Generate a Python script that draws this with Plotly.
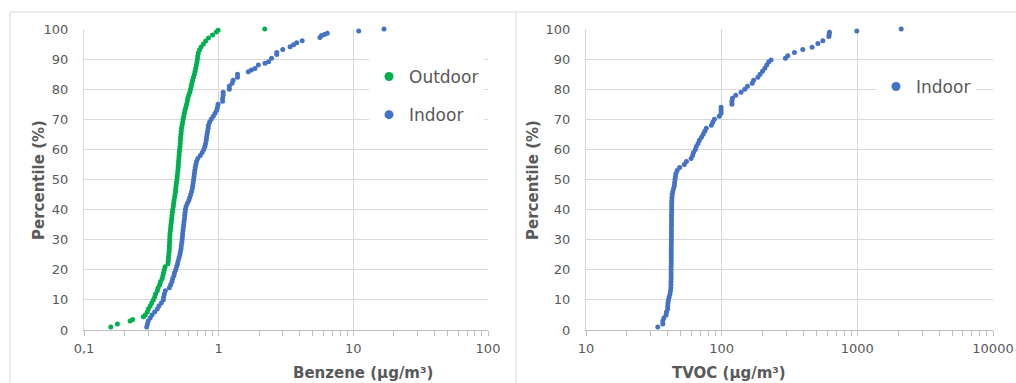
import plotly.graph_objects as go

# ---------------- data ----------------
# Benzene outdoor (µg/m3) and percentile
benz_out_x = [0.158, 0.177, 0.22, 0.23, 0.276, 0.285, 0.295, 0.30, 0.31, 0.318,
              0.327, 0.335, 0.34, 0.35, 0.355, 0.365, 0.37, 0.38, 0.385, 0.39,
              0.395, 0.40, 0.42, 0.422, 0.424, 0.426, 0.428, 0.43, 0.43, 0.432,
              0.433, 0.434, 0.435, 0.438, 0.44, 0.442, 0.445, 0.448, 0.45, 0.453,
              0.456, 0.46, 0.463, 0.466, 0.47, 0.474, 0.478, 0.48, 0.483, 0.486,
              0.49, 0.492, 0.495, 0.498, 0.50, 0.502, 0.504, 0.506, 0.508, 0.51,
              0.513, 0.516, 0.518, 0.52, 0.522, 0.525, 0.527, 0.53, 0.535, 0.54,
              0.545, 0.55, 0.556, 0.562, 0.57, 0.578, 0.585, 0.59, 0.60, 0.61,
              0.618, 0.625, 0.632, 0.64, 0.65, 0.66, 0.668, 0.675, 0.683, 0.69,
              0.695, 0.70, 0.706, 0.72, 0.74, 0.77, 0.80, 0.84, 0.90, 0.96,
              0.99, 2.2]
benz_out_p = [1, 2, 3, 3.5, 4.4, 5, 6, 7, 8, 9,
              10, 11, 12, 13, 14, 15, 16, 17, 18, 19,
              20, 21, 22, 23, 24, 25, 26, 27, 28, 29,
              30, 31, 32, 33, 34, 35, 36, 37, 38, 39,
              40, 41, 42, 43, 44, 45, 46, 47, 48, 49,
              50, 51, 52, 53, 54, 55, 56, 57, 58, 59,
              60, 61, 62, 63, 64, 65, 66, 67, 68, 69,
              70, 71, 72, 73, 74, 75, 76, 77, 78, 79,
              80, 81, 82, 83, 84, 85, 86, 87, 88, 89,
              90, 91, 92, 93, 94, 95, 96, 97, 98, 99,
              99.6, 100]

# Benzene indoor (µg/m3) and percentile
benz_in_x = [0.292, 0.296, 0.30, 0.31, 0.32, 0.335, 0.35, 0.36, 0.375, 0.388,
             0.39, 0.395, 0.402, 0.43, 0.44, 0.45, 0.455, 0.465, 0.47, 0.48,
             0.487, 0.495, 0.50, 0.508, 0.515, 0.52, 0.525, 0.528, 0.532, 0.535,
             0.538, 0.54, 0.543, 0.546, 0.55, 0.553, 0.557, 0.56, 0.563, 0.567,
             0.572, 0.585, 0.60, 0.61, 0.62, 0.63, 0.637, 0.642, 0.647, 0.652,
             0.656, 0.66, 0.665, 0.67, 0.677, 0.685, 0.70, 0.73, 0.755, 0.775,
             0.79, 0.80, 0.808, 0.814, 0.82, 0.828, 0.835, 0.84, 0.855, 0.88,
             0.912, 0.94, 0.967, 0.98, 0.99, 1.07, 1.07, 1.08, 1.08, 1.2,
             1.2, 1.26, 1.28, 1.38, 1.38, 1.66, 1.75, 1.86, 1.97, 2.21,
             2.35, 2.47, 2.7, 2.7, 2.99, 3.39, 3.6, 3.8, 4.17, 5.65,
             5.8, 6.1, 6.4, 10.96, 16.9]
benz_in_p = [1, 2, 3, 4, 5, 6, 7, 8, 9, 10,
             11, 12, 13, 14, 15, 16, 17, 18, 19, 20,
             21, 22, 23, 24, 25, 26, 27, 28, 29, 30,
             31, 32, 33, 34, 35, 36, 37, 38, 39, 40,
             41, 42, 43, 44, 45, 46, 47, 48, 49, 50,
             51, 52, 53, 54, 55, 56, 57, 58, 59, 60,
             61, 62, 63, 64, 65, 66, 67, 68, 69, 70,
             71, 72, 73, 74, 75, 76, 77, 78, 79, 80,
             81, 82, 83, 84, 85, 85.8, 86.4, 86.9, 88, 88.6,
             89.1, 90.3, 91.5, 92.2, 93.2, 94.1, 94.8, 95.4, 96.1, 97.2,
             97.8, 98.2, 98.6, 99.3, 100]

# TVOC indoor (µg/m3) and percentile
tvoc_x = [33.8, 36.8, 36.8, 37.5, 38.9, 39.2, 40, 40, 40.2, 40.5,
          41, 41.6, 42, 42.2, 42.3, 42.3, 42.4, 42.4, 42.4, 42.4,
          42.4, 42.5, 42.5, 42.5, 42.5, 42.5, 42.5, 42.5, 42.6, 42.6,
          42.6, 42.6, 42.6, 42.6, 42.7, 42.7, 42.7, 42.7, 42.8, 42.8,
          42.8, 42.8, 42.9, 43, 43.2, 43.6, 44.2, 44.8, 45, 45.3,
          45.6, 46, 47, 49, 53, 55, 59.5, 61, 62, 64,
          65, 67, 68.5, 71, 73, 75, 77, 84, 86, 88.4,
          96, 99, 99, 99, 119, 119, 120, 127, 139, 148,
          155, 168, 172, 185, 192, 200, 208, 215, 222, 231,
          295, 307, 344, 396, 464, 512, 557, 617, 620, 623,
          991, 2104]
tvoc_p = [1, 2, 3, 4, 5, 6, 7, 8, 9, 10,
          11, 12, 13, 14, 15, 16, 17, 18, 19, 20,
          21, 22, 23, 24, 25, 26, 27, 28, 29, 30,
          31, 32, 33, 34, 35, 36, 37, 38, 39, 40,
          41, 42, 43, 44, 45, 46, 47, 48, 49, 50,
          51, 52, 53, 54, 55, 56, 57, 58, 59, 60,
          61, 62, 63, 64, 65, 66, 67, 68, 69, 70,
          71, 72, 73, 74, 75, 76, 77, 78, 79, 80,
          81, 82, 83, 84, 85, 86, 87, 88, 89, 89.7,
          90.3, 91.1, 92.2, 93.2, 93.9, 95.2, 96.1, 97.5, 98.2, 98.9,
          99.3, 100]

y_ticks = [0, 10, 20, 30, 40, 50, 60, 70, 80, 90, 100]

# ---------------- style ----------------
GREEN = "#00B050"
BLUE = "#4472C4"
GRID = "#d9d9d9"
TXT = "#595959"
FONT = "DejaVu Sans"
W, H = 1016, 383

def px(xpix):
    return xpix / W

def py(ypix):
    return 1 - ypix / H

fig = go.Figure()

mk = dict(size=5)
fig.add_trace(go.Scatter(x=benz_out_x, y=benz_out_p, mode="markers",
                         marker=dict(color=GREEN, **mk), xaxis="x", yaxis="y",
                         showlegend=False, cliponaxis=False))
fig.add_trace(go.Scatter(x=benz_in_x, y=benz_in_p, mode="markers",
                         marker=dict(color=BLUE, **mk), xaxis="x", yaxis="y",
                         showlegend=False, cliponaxis=False))
fig.add_trace(go.Scatter(x=tvoc_x, y=tvoc_p, mode="markers",
                         marker=dict(color=BLUE, **mk), xaxis="x2", yaxis="y2",
                         showlegend=False, cliponaxis=False))

# legend entries
fig.add_trace(go.Scatter(x=[None], y=[None], mode="markers", name="Outdoor",
                         marker=dict(color=GREEN, size=9), legendgroup="a",
                         legend="legend", xaxis="x", yaxis="y"))
fig.add_trace(go.Scatter(x=[None], y=[None], mode="markers", name="Indoor",
                         marker=dict(color=BLUE, size=9), legendgroup="b",
                         legend="legend", xaxis="x", yaxis="y"))
fig.add_trace(go.Scatter(x=[None], y=[None], mode="markers", name="Indoor",
                         marker=dict(color=BLUE, size=9), legendgroup="c",
                         legend="legend2", xaxis="x2", yaxis="y2"))

xcommon = dict(type="log", showgrid=True, gridcolor=GRID, gridwidth=1,
               showline=True, linecolor="#bfbfbf", linewidth=1,
               ticks="outside", ticklen=5, tickcolor="#bfbfbf",
               tickfont=dict(family=FONT, size=13, color=TXT),
               ticklabelstandoff=1, zeroline=False, automargin=False,
               minor=dict(ticks="outside", ticklen=5, tickcolor="#bfbfbf",
                          dtick="D1", showgrid=False))
ycommon = dict(range=[0, 100], tickvals=y_ticks, showgrid=True, gridcolor=GRID,
               gridwidth=1, showline=True, linecolor=GRID, ticks="",
               tickfont=dict(family=FONT, size=13, color=TXT),
               ticklabelstandoff=12, zeroline=False, automargin=False,
               domain=[py(330), py(29)])

fig.update_layout(
    width=W, height=H,
    margin=dict(l=0, r=0, t=0, b=0),
    paper_bgcolor="white", plot_bgcolor="white",
    separators=",.",
    font=dict(family=FONT, color=TXT),
    xaxis=dict(range=[-1, 2], dtick=1, domain=[px(84), px(488)], anchor="y", **xcommon),
    yaxis=dict(anchor="x", **ycommon),
    xaxis2=dict(range=[1, 4], dtick=1, tickformat="d", domain=[px(586), px(993)],
                anchor="y2", **xcommon),
    yaxis2=dict(anchor="x2", **ycommon),
    legend=dict(x=px(369), y=py(59), xanchor="left", yanchor="top",
                bgcolor="white", borderwidth=0, tracegroupgap=13,
                font=dict(family=FONT, size=17, color=TXT)),
    legend2=dict(x=px(876), y=py(69), xanchor="left", yanchor="top",
                 bgcolor="white", borderwidth=0,
                 font=dict(family=FONT, size=17, color=TXT)),
)

# chart frames
fig.add_shape(type="line", xref="paper", yref="paper", x0=px(10), x1=1,
              y0=py(12), y1=py(12), line=dict(color=GRID, width=1))
fig.add_shape(type="line", xref="paper", yref="paper", x0=px(10), x1=px(10),
              y0=py(12), y1=0, line=dict(color=GRID, width=1))
fig.add_shape(type="line", xref="paper", yref="paper", x0=px(516), x1=px(516),
              y0=py(12), y1=0, line=dict(color=GRID, width=1))

# axis titles
title_font = dict(family=FONT, size=15, color=TXT)
fig.add_annotation(text="<b>Percentile (%)</b>", xref="paper", yref="paper",
                   x=px(28), y=py(180), textangle=-90, showarrow=False, font=title_font)
fig.add_annotation(text="<b>Percentile (%)</b>", xref="paper", yref="paper",
                   x=px(533), y=py(180), textangle=-90, showarrow=False, font=title_font)
fig.add_annotation(text="<b>Benzene (µg/m³)</b>", xref="paper", yref="paper",
                   x=px(292), y=py(383), yanchor="bottom", showarrow=False,
                   font=title_font, borderpad=0)
fig.add_annotation(text="<b>TVOC (µg/m³)</b>", xref="paper", yref="paper",
                   x=px(787), y=py(383), yanchor="bottom", showarrow=False,
                   font=title_font, borderpad=0)

fig.write_html("out.html")
